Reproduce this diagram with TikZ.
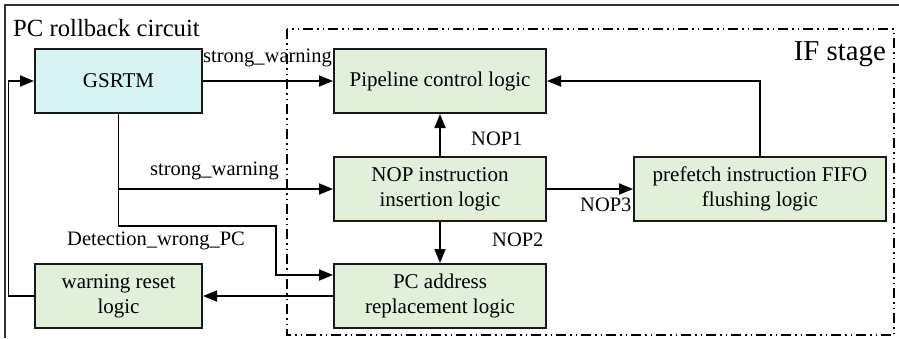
\documentclass[tikz,border=0pt]{standalone}
\usepackage{fontspec}
\setmainfont{Liberation Serif}
\usetikzlibrary{arrows.meta}

\definecolor{boxgreen}{RGB}{226,239,217}
\definecolor{boxcyan}{RGB}{214,243,243}

\tikzset{
  block/.style={draw=black!90, line width=2pt, fill=boxgreen, align=center,
    inner sep=0pt, font=\fontsize{21}{25}\selectfont},
  arr/.style={line width=1.8pt, -{Triangle[length=14pt,width=11pt]}},
  sig/.style={inner sep=0pt, anchor=west, font=\fontsize{20.5}{24}\selectfont},
  stagebox/.style={line width=1.3pt,
    dash pattern=on 10pt off 4pt on 1.5pt off 4pt on 1.5pt off 4pt}
}

\begin{document}
\begin{tikzpicture}[x=1pt, y=-1pt]
  \useasboundingbox (0,0) rectangle (899,338);
  \fill[white] (0,0) rectangle (899,338);

  % outer frame of the rollback circuit
  \draw[line width=1.8pt, black!80] (899,5) -- (5,5) -- (5,338);
  \node[sig, font=\fontsize{24.7}{28}\selectfont] (title) at (13,28) {PC rollback circuit};

  % IF stage region
  \draw[stagebox] (287,29) rectangle (894,335);
  \node[sig, font=\fontsize{28.8}{32}\selectfont, anchor=east] (ifst) at (886,54) {IF stage};

  % blocks
  \node[block, fill=boxcyan, minimum width=167pt, minimum height=64pt] (gsrtm) at (118.5,81) {GSRTM};
  \node[block, minimum width=212pt, minimum height=64pt] (pipe) at (440,81) {Pipeline control logic};
  \node[block, minimum width=212pt, minimum height=64pt] (nop) at (440,189) {NOP instruction\\insertion logic};
  \node[block, minimum width=252pt, minimum height=64pt] (pref) at (760,189) {prefetch instruction FIFO\\flushing logic};
  \node[block, minimum width=167pt, minimum height=64pt] (warn) at (118.5,296) {warning reset\\logic};
  \node[block, minimum width=212pt, minimum height=64pt] (pcaddr) at (440,296) {PC address\\replacement logic};

  % routing points
  \coordinate (bendA) at (118.5,226);
  \coordinate (bendB) at (276,226);
  \coordinate (fb) at (8.5,296);

  % connectors
  \draw[arr] (gsrtm) -- (pipe);
  \draw[arr] (gsrtm.south) |- (nop.west);
  \draw[arr] (gsrtm.south) -- (bendA) -- (bendB) |- ([yshift=21pt]pcaddr.west);
  \draw[arr] (pcaddr) -- (warn);
  \draw[arr] (warn.west) -- (fb) |- (gsrtm.west);
  \draw[arr] (nop) -- (pipe);
  \draw[arr] (nop) -- (pcaddr);
  \draw[arr] (nop) -- (pref);
  \draw[arr] (pref.north) |- (pipe.east);

  % signal labels
  \node[sig] (l1) at (203,58) {strong\_warning};
  \node[sig] (l2) at (150,171) {strong\_warning};
  \node[sig] (l3) at (67,241) {Detection\_wrong\_PC};
  \node[sig] (l4) at (471,139) {NOP1};
  \node[sig] (l5) at (492,240) {NOP2};
  \node[sig] (l6) at (580,205) {NOP3};
\end{tikzpicture}
\end{document}
